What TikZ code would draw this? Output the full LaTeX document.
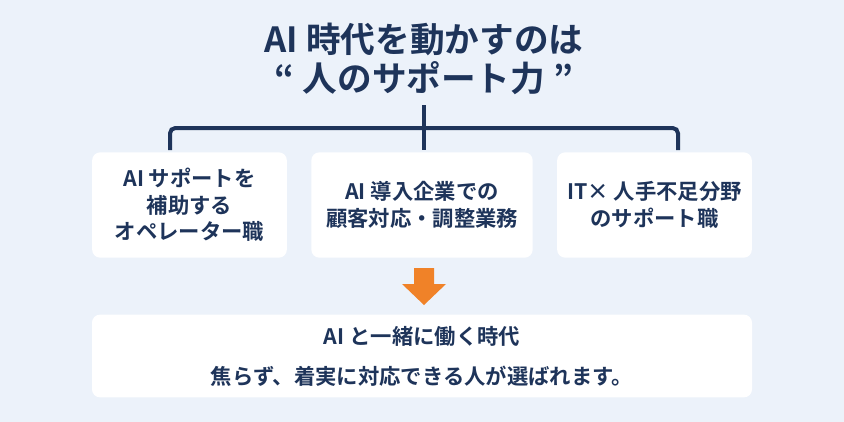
\documentclass[tikz,border=0pt]{standalone}
\usepackage{fontspec}
\setmainfont{Noto Sans CJK JP}[BoldFont={Noto Sans CJK JP Bold}]
\definecolor{navy}{RGB}{30,52,90}
\definecolor{bgblue}{RGB}{236,242,250}
\definecolor{arroworange}{RGB}{240,130,40}
\tikzset{every picture/.style={line width=0.75pt}}
\tikzset{
  card/.style={fill=white, rounded corners=6pt, draw=none, align=center, text=navy, font=\bfseries\fontsize{16}{20}\selectfont, inner sep=0pt},
  branch/.style={draw=navy, line width=3pt}
}
\begin{document}
\begin{tikzpicture}[x=0.75pt,y=0.75pt,yscale=-1,xscale=1]
        %Background
        \fill[bgblue] (0,0) rectangle (844,422);
        \useasboundingbox (0,0) rectangle (844,422);

        % Title
        \node (title) [text=navy, align=center, font=\bfseries\fontsize{26}{29}\selectfont] at (424,59) {AI 時代を動かすのは\\“ 人のサポート力 ”};

        % Cards
        \node (left) [card, minimum width=146pt, minimum height=79pt] at (189.5,205) {AI サポートを\\補助する\\オペレーター職};
        \node (mid) [card, minimum width=166pt, minimum height=79pt] at (422,205) {AI 導入企業での\\顧客対応・調整業務};
        \node (right) [card, minimum width=146pt, minimum height=79pt] at (654.5,205) {IT× 人手不足分野\\のサポート職};
        \node (bottom) [card, font=\bfseries\fontsize{16}{30}\selectfont, minimum width=495pt, minimum height=62pt] at (422,356) {AI と一緒に働く時代\\焦らず、着実に対応できる人が選ばれます。};

        % Tree
        \coordinate (stem) at (424,105);
        \coordinate (joint) at (424,128);
        \coordinate (dropl) at (170,150);
        \coordinate (dropm) at (424,150);
        \coordinate (dropr) at (678,150);
        \draw[branch] (stem) -- (dropm);
        \draw[branch, rounded corners=4pt] (dropl) |- (joint) -| (dropr);

        % Arrow
        \fill[arroworange] (414,268) -- (434,268) -- (434,284) -- (446,284) -- (424,305) -- (402,284) -- (414,284) -- cycle;
\end{tikzpicture}
\end{document}
